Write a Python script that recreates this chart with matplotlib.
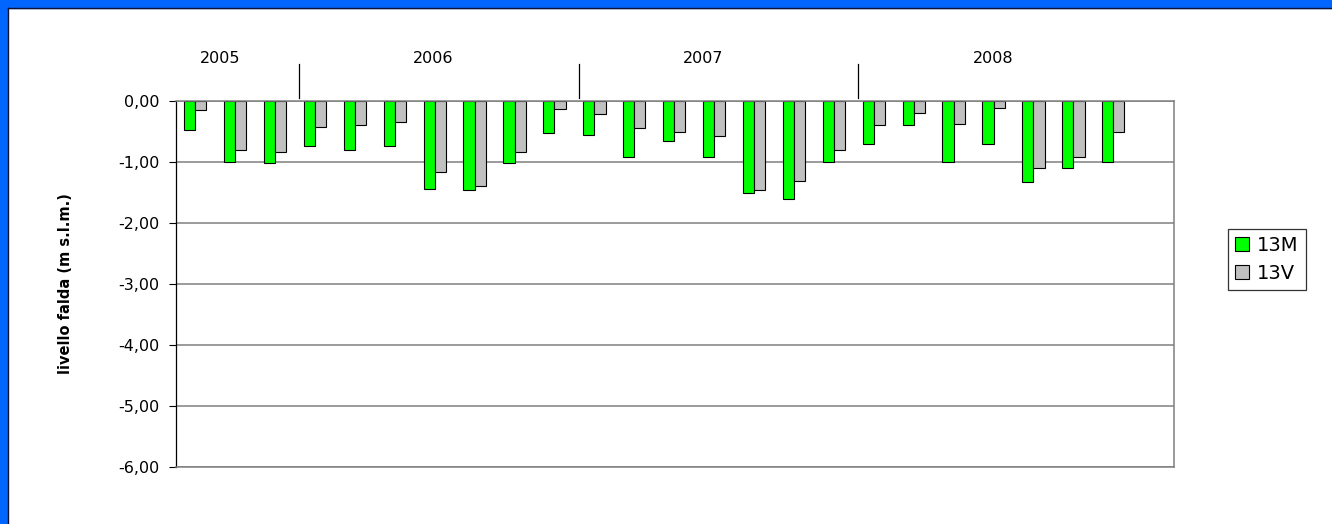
import numpy as np
import matplotlib
matplotlib.use('Agg')
import matplotlib.pyplot as plt
from matplotlib.patches import Rectangle
from matplotlib.ticker import FuncFormatter

# misure piezometriche (m s.l.m.), 25 campagne, l'ultima senza dati
anni = ['2005'] * 3 + ['2006'] * 7 + ['2007'] * 7 + ['2008'] * 8
v13M = [-0.48, -1.00, -1.02, -0.74, -0.81, -0.74, -1.44, -1.46, -1.02, -0.52,
        -0.55, -0.91, -0.66, -0.91, -1.50, -1.61, -1.00, -0.70, -0.39, -1.00,
        -0.70, -1.33, -1.10, -1.00, np.nan]
v13V = [-0.15, -0.81, -0.83, -0.42, -0.39, -0.35, -1.17, -1.39, -0.83, -0.13,
        -0.22, -0.44, -0.50, -0.57, -1.46, -1.31, -0.80, -0.39, -0.20, -0.37,
        -0.11, -1.10, -0.91, -0.50, np.nan]
yticks = [0, -1, -2, -3, -4, -5, -6]
etichette_anni = ['2005', '2006', '2007', '2008']
pos_anni = [0.6, 5.93, 12.7, 19.97]

plt.rcParams['font.family'] = 'DejaVu Sans'

fig = plt.figure(figsize=(13.32, 5.24), dpi=100)
ax = fig.add_axes([176 / 1332, 1 - 467 / 524, 998 / 1332, 366 / 524])

x = np.arange(len(anni))
w = 0.28
ax.bar(x - w / 2 - 0.02, v13M, w, color='#00ff00', edgecolor='black', linewidth=0.8, label='13M')
ax.bar(x + w / 2 - 0.02, v13V, w, color='#c0c0c0', edgecolor='black', linewidth=0.8, label='13V')

ax.set_xlim(-0.5, len(anni) - 0.5)
ax.set_ylim(-6, 0)
ax.set_yticks(yticks)
ax.yaxis.set_major_formatter(FuncFormatter(lambda v, p: ('%.2f' % v).replace('.', ',')))
ax.tick_params(axis='y', length=5, width=0.8, pad=7, labelsize=11.5)
ax.set_xticks([])
ax.grid(axis='y', color='#808080', linewidth=1.1)
ax.set_axisbelow(True)

for s in ['top', 'right', 'bottom']:
    ax.spines[s].set_color('#808080')
    ax.spines[s].set_linewidth(1.1)
ax.spines['left'].set_color('black')
ax.spines['left'].set_linewidth(0.9)

ax.set_ylabel('livello falda (m s.l.m.)', fontsize=10.5, fontweight='bold')
ax.yaxis.set_label_coords(-0.103, 0.5)

# anni e separatori sopra il grafico
trans = ax.get_xaxis_transform()
for a, p in zip(etichette_anni, pos_anni):
    ax.text(p, 1.117, a, transform=trans, ha='center', va='center', fontsize=11.5)
confini = [i - 0.5 for i in range(1, len(anni)) if anni[i] != anni[i - 1]]
for c in confini:
    ax.plot([c + 0.09, c + 0.09], [1.008, 1.101], transform=trans, color='black', linewidth=0.9, clip_on=False)

leg = ax.legend(loc='center', bbox_to_anchor=(1.093, 0.567), fontsize=14, frameon=True,
                fancybox=False, edgecolor='black', handlelength=0.75, handleheight=0.75,
                handletextpad=0.4, borderpad=0.35, labelspacing=0.45, borderaxespad=0)
leg.get_frame().set_linewidth(0.9)

# cornice blu (sinistra e in alto)
fig.patches.append(Rectangle((0, 0), 7 / 1332, 1, transform=fig.transFigure, color='#0066ff', zorder=-1))
fig.patches.append(Rectangle((0, 1 - 7.5 / 524), 1, 7.5 / 524, transform=fig.transFigure, color='#0066ff', zorder=-1))
fig.lines.append(plt.Line2D([7.5 / 1332, 7.5 / 1332], [0, 1 - 8 / 524], transform=fig.transFigure, color='#101030', linewidth=1))
fig.lines.append(plt.Line2D([7.5 / 1332, 1], [1 - 8 / 524, 1 - 8 / 524], transform=fig.transFigure, color='#101030', linewidth=1))

fig.savefig('out.png', dpi=100)
